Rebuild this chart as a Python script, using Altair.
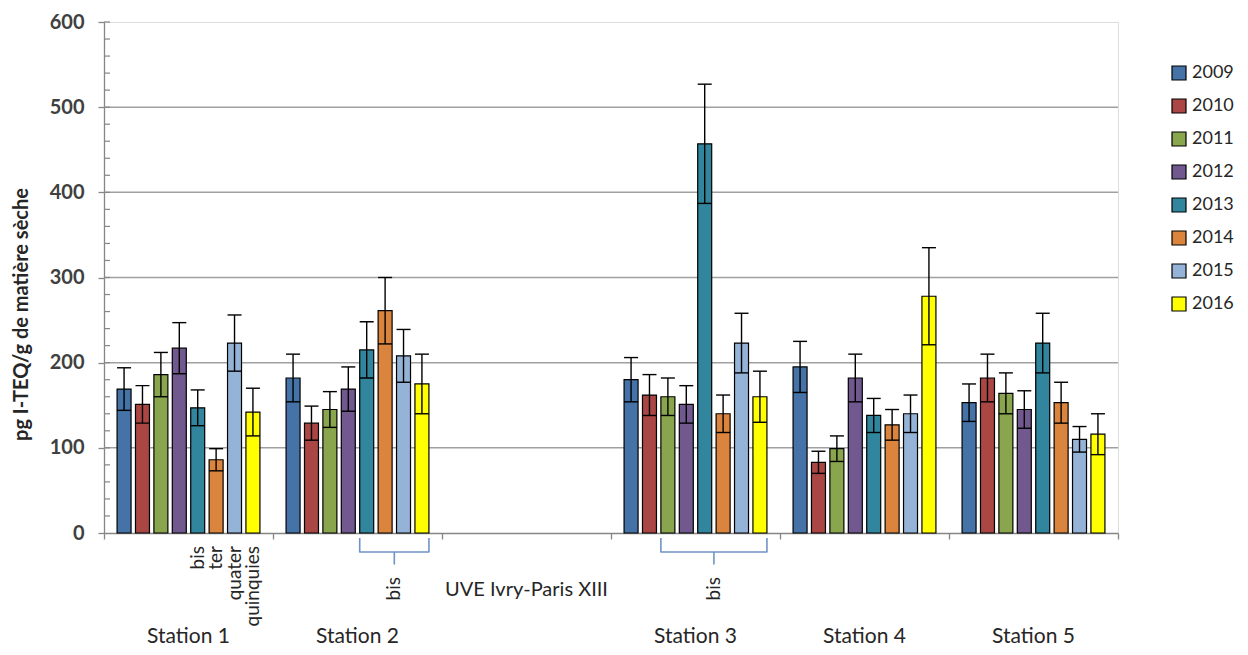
import altair as alt
import pandas as pd

# ---------------- data ----------------
years = ["2009", "2010", "2011", "2012", "2013", "2014", "2015", "2016"]
colors = ["#4572A7", "#AA4643", "#89A54E", "#71588F", "#31859C", "#DB843D", "#95B3D7", "#FFFF00"]

stations = ["Station 1", "Station 2", "UVE Ivry-Paris XIII", "Station 3", "Station 4", "Station 5"]
station_labels = ["Station 1", "Station 2", "Station 3", "Station 4", "Station 5"]
uve_label = "UVE Ivry-Paris XIII"

s1_values = [169, 151, 186, 217, 147, 86, 223, 142]
s1_errors = [25, 22, 26, 30, 21, 13, 33, 28]
s2_values = [182, 129, 145, 169, 215, 261, 208, 175]
s2_errors = [28, 20, 21, 26, 33, 39, 31, 35]
s3_values = [180, 162, 160, 151, 457, 140, 223, 160]
s3_errors = [26, 24, 22, 22, 70, 22, 35, 30]
s4_values = [195, 83, 99, 182, 138, 127, 140, 278]
s4_errors = [30, 13, 15, 28, 20, 18, 22, 57]
s5_values = [153, 182, 164, 145, 223, 153, 110, 116]
s5_errors = [22, 28, 24, 22, 35, 24, 15, 24]

sub_years = ["2013", "2014", "2015", "2016"]
sub_texts = ["bis", "ter", "quater", "quinquies"]

# brackets: (station, first year, last year, label)
bracket_station = ["Station 2", "Station 3"]
bracket_from = ["2013", "2011"]
bracket_to = ["2016", "2016"]
bracket_text = ["bis", "bis"]

y_ticks = [0, 100, 200, 300, 400, 500, 600]
grid_values = [100, 200, 300, 400, 500]
minor_ticks = list(range(20, 601, 20))

YTITLE = "pg I-TEQ/g de matière sèche"

# ---------------- layout ----------------
W, H = 1014, 511
PAD_IN, PAD_OUT = 0.24, 0.71
AXIS_GRAY = "#868686"
TEXT = "#262626"
FONT = "Lato"

series = {
    "Station 1": (s1_values, s1_errors),
    "Station 2": (s2_values, s2_errors),
    "Station 3": (s3_values, s3_errors),
    "Station 4": (s4_values, s4_errors),
    "Station 5": (s5_values, s5_errors),
}
rows = []
for st, (vals, errs) in series.items():
    for yr, v, e in zip(years, vals, errs):
        rows.append({"station": st, "year": yr, "value": v, "err": e})
df = pd.DataFrame(rows)

xs = alt.Scale(domain=stations, paddingInner=0, paddingOuter=0)
xo = alt.Scale(domain=years, paddingInner=PAD_IN, paddingOuter=PAD_OUT)
ys = alt.Scale(domain=[0, 600], nice=False, zero=True)

x_axis = alt.Axis(labels=False, title=None, tickBand="extent", tickSize=6,
                  tickColor=AXIS_GRAY, domainColor=AXIS_GRAY, domainWidth=1.3,
                  tickWidth=1.3, grid=False)
y_axis = alt.Axis(values=y_ticks, grid=False, tickSize=6, tickColor=AXIS_GRAY,
                  tickWidth=1.3, domainColor=AXIS_GRAY, domainWidth=1.3,
                  labelFont=FONT, labelFontSize=20, labelFontWeight="bold",
                  labelColor="#404040", labelPadding=14,
                  titleFont=FONT, titleFontSize=20, titleFontWeight="bold",
                  titleColor=TEXT, titleX=-83, titleY=292, titleAngle=270,
                  titleAlign="center", titleBaseline="middle")


def X(field="station:N"):
    return alt.X(field, scale=xs, axis=x_axis, title=None)


def XO():
    return alt.XOffset("year:N", scale=xo)


def Y(field):
    return alt.Y(field, scale=ys, axis=y_axis, title=YTITLE)


base = alt.Chart(df).transform_calculate(
    lo="datum.value - datum.err", hi="datum.value + datum.err"
)

grid = alt.Chart(pd.DataFrame({"v": grid_values})).mark_rule(
    color="#a0a0a0", strokeWidth=1.5
).encode(y=Y("v:Q"))

minor = alt.Chart(pd.DataFrame({"v": minor_ticks})).mark_rule(
    color=AXIS_GRAY, strokeWidth=1.2
).encode(y=Y("v:Q"), x=alt.value(0), x2=alt.value(6))

bars = base.mark_bar(stroke="black", strokeWidth=1.2).encode(
    x=X(), xOffset=XO(), y=Y("value:Q"),
    color=alt.Color(
        "year:N",
        scale=alt.Scale(domain=years, range=colors),
        legend=alt.Legend(
            orient="none", legendX=1066, legendY=42, title=None,
            symbolType="square", symbolSize=196, symbolStrokeColor="black",
            symbolStrokeWidth=1.2, symbolOpacity=1,
            labelFont=FONT, labelFontSize=18, labelColor=TEXT,
            rowPadding=13, labelOffset=4, padding=0,
        ),
    ),
)

err_rule = base.mark_rule(color="black", strokeWidth=1.4).encode(
    x=X(), xOffset=XO(), y=Y("lo:Q"), y2="hi:Q"
)
cap_hi = base.mark_tick(color="black", thickness=1.4, size=14, orient="horizontal", opacity=1).encode(
    x=X(), xOffset=XO(), y=Y("hi:Q")
)
cap_lo = base.mark_tick(color="black", thickness=1.4, size=14, orient="horizontal", opacity=1).encode(
    x=X(), xOffset=XO(), y=Y("lo:Q")
)

st_text = alt.Chart(pd.DataFrame({"station": station_labels})).mark_text(
    font=FONT, fontSize=21, color=TEXT, baseline="alphabetic"
).encode(x=X(), y=alt.value(621), text="station:N")

uve_text = alt.Chart(pd.DataFrame({"station": [uve_label]})).mark_text(
    font=FONT, fontSize=20, color=TEXT, baseline="middle"
).encode(x=X(), y=alt.value(568), text="station:N")

sub_df = pd.DataFrame({"station": ["Station 1"] * len(sub_years), "year": sub_years, "label": sub_texts})
sub_text = alt.Chart(sub_df).mark_text(
    font=FONT, fontSize=19, color=TEXT, angle=270, align="right", baseline="middle"
).encode(x=X(), xOffset=XO(), y=alt.value(524), text="label:N")

main = alt.layer(grid, minor, bars, err_rule, cap_hi, cap_lo, st_text, uve_text, sub_text)

# ---------------- brackets (linear overlay in group units) ----------------
step = 1.0 / (len(years) - PAD_IN + 2 * PAD_OUT)
HOOK_TOP, BAR_Y, STEM_Y = 516, 530, 542
brows, trows = [], []
for bid, (st, y1, y2, lab) in enumerate(zip(bracket_station, bracket_from, bracket_to, bracket_text)):
    g = stations.index(st)
    k1, k2 = years.index(y1), years.index(y2)
    left = g + (PAD_OUT + k1) * step
    right = g + (PAD_OUT + k2 + 1 - PAD_IN) * step
    c = (left + right) / 2
    pts = [(left, HOOK_TOP), (left, BAR_Y), (c, BAR_Y), (c, STEM_Y), (c, BAR_Y), (right, BAR_Y), (right, HOOK_TOP)]
    for i, (px, py) in enumerate(pts):
        brows.append({"id": bid, "i": i, "gx": px, "py": py})
    trows.append({"gx": c, "label": lab})

lin = alt.Scale(domain=[0, len(stations)], nice=False, zero=False)
br_line = alt.Chart(pd.DataFrame(brows)).mark_line(
    color="#6f93c6", strokeWidth=1.6, strokeJoin="round"
).encode(
    x=alt.X("gx:Q", scale=lin, axis=None),
    y=alt.Y("py:Q", scale=None, axis=None),
    detail="id:N", order="i:Q",
)
br_text = alt.Chart(pd.DataFrame(trows)).mark_text(
    font=FONT, fontSize=19, color=TEXT, angle=270, align="right", baseline="middle"
).encode(x=alt.X("gx:Q", scale=lin, axis=None), y=alt.value(555), text="label:N")
brk = alt.layer(br_line, br_text)

chart = alt.layer(main, brk).resolve_scale(x="independent", y="independent").properties(
    width=W, height=H,
    padding={"left": 96, "top": 14, "right": 122, "bottom": 114},
    autosize=alt.AutoSizeParams(type="none"),
).configure_view(stroke=None).configure(font=FONT)

chart.save("out.html", embed_options={"renderer": "svg", "actions": False})
